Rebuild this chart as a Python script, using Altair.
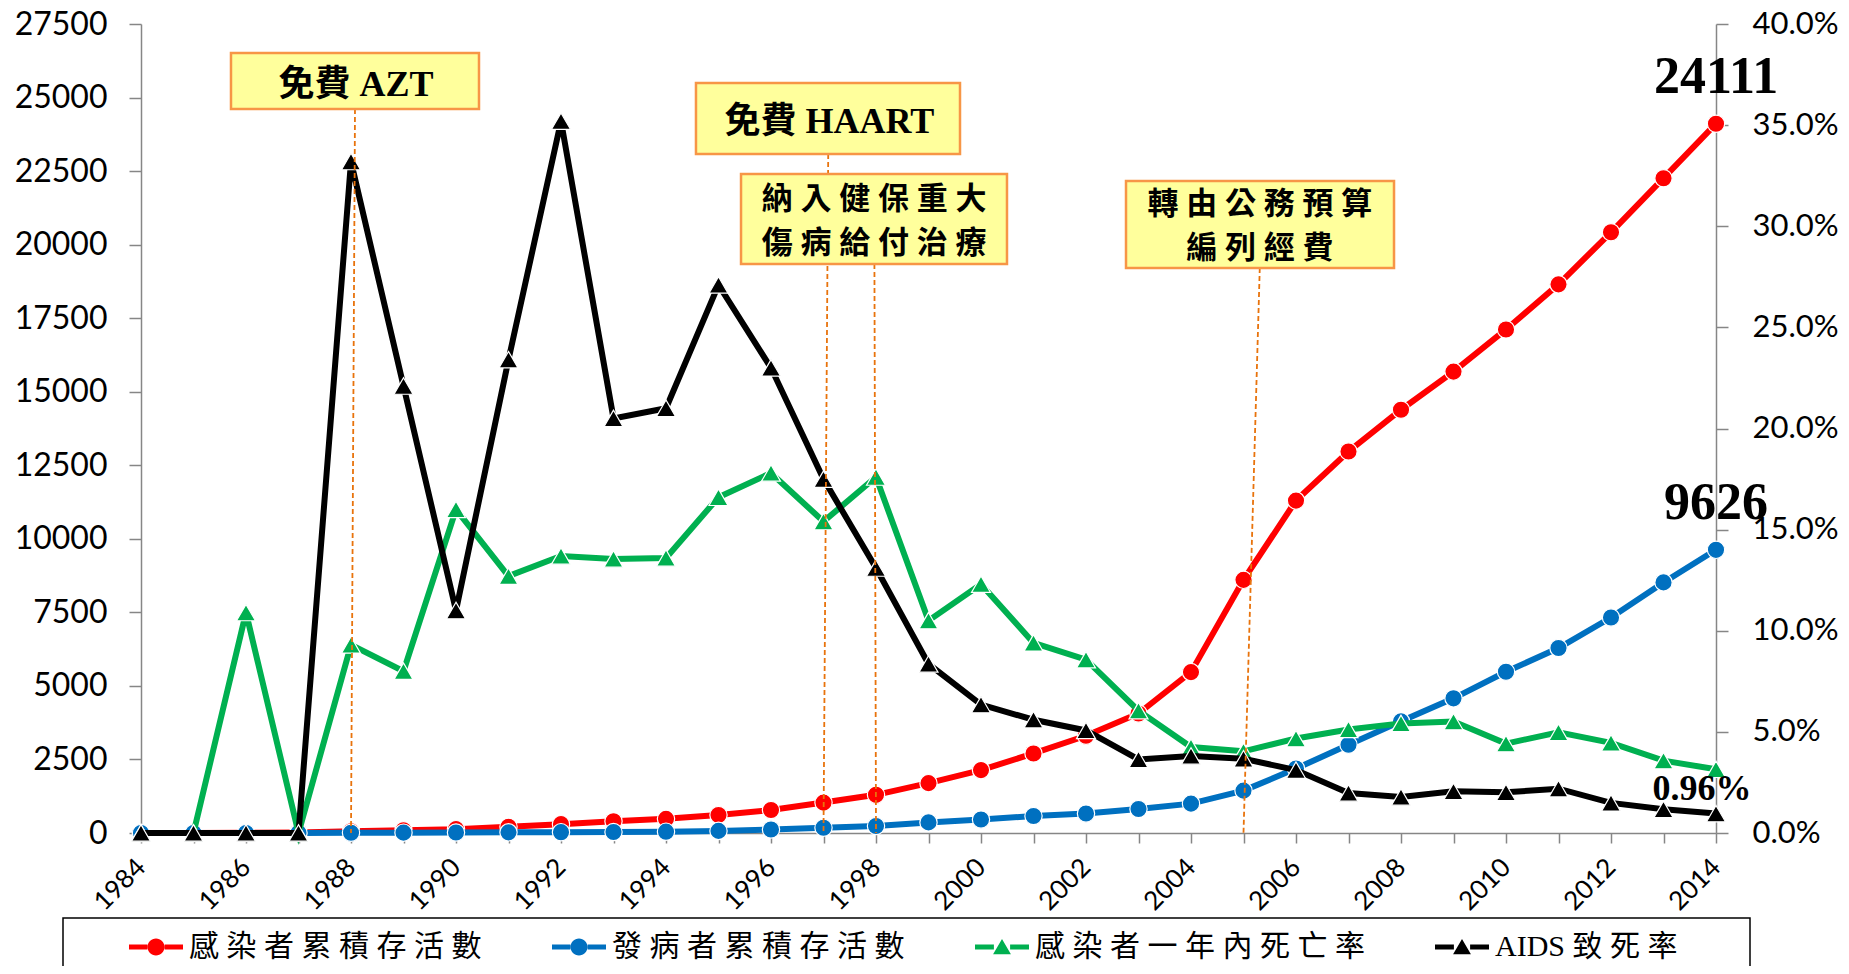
import altair as alt
import pandas as pd

# ---------------- data ----------------
years = list(range(1984, 2015))
series_names = ["感染者累積存活數", "發病者累積存活數", "感染者一年內死亡率", "AIDS致死率"]
series_colors = ["#FF0000", "#0070C0", "#00B050", "#000000"]

infected_alive = [0, 2, 5, 20, 60, 95, 130, 210, 300, 397, 481, 613, 781, 1034, 1298,
                  1695, 2139, 2704, 3305, 4062, 5469, 8606, 11300, 12970, 14388, 15685,
                  17117, 18650, 20420, 22258, 24111]
aids_alive = [0, 0, 1, 3, 8, 12, 16, 22, 28, 36, 45, 72, 120, 180, 240, 360, 457, 577,
              661, 817, 998, 1442, 2190, 3000, 3795, 4578, 5482, 6289, 7325, 8518, 9626]
infected_death_rate = [0.0, 0.0, 0.109, 0.0, 0.093, 0.080, 0.160, 0.127, 0.137, 0.1355,
                       0.136, 0.166, 0.178, 0.154, 0.176, 0.105, 0.123, 0.094, 0.0857,
                       0.0605, 0.0425, 0.0404, 0.0467, 0.0512, 0.0542, 0.0551, 0.0442,
                       0.0498, 0.0446, 0.0358, 0.0315]
aids_death_rate = [0.0, 0.0, 0.0, 0.0, 0.332, 0.221, 0.110, 0.234, 0.352, 0.205, 0.210,
                   0.271, 0.230, 0.175, 0.131, 0.0836, 0.0635, 0.056, 0.0507, 0.0364,
                   0.0381, 0.0367, 0.0311, 0.0198, 0.0178, 0.0206, 0.0201, 0.0219,
                   0.0149, 0.0117, 0.0096]

left_ticks = list(range(0, 27501, 2500))
right_ticks = [0.0, 0.05, 0.10, 0.15, 0.20, 0.25, 0.30, 0.35, 0.40]

event_labels = [["免費 AZT"], ["免費 HAART"], ["納入健保重大", "傷病給付治療"], ["轉由公務預算", "編列經費"]]
event_years = [1988, 1997, 1998, 2005]

# ---------------- layout (annotation placement, in axis units) ----------------
box_x0 = [1985.714, 1994.571, 1995.429, 2002.762]
box_x1 = [1990.438, 1999.600, 2000.495, 2007.867]
box_ytop = [26514, 25494, 22401, 22163]
box_ybot = [24610, 23081, 19342, 19206]
text_x = [1988.095, 1997.114, 1997.962, 2005.314]
text_y = [[25426], [24169], [21517, 20021], [21347, 19851]]
rule_top_x = [1988.076, 1997.09, 1997.97, 2005.31]

# ---------------- frames ----------------
rows = []
for name, vals in zip(series_names, [infected_alive, aids_alive, infected_death_rate, aids_death_rate]):
    for yr, v in zip(years, vals):
        rows.append({"year": yr, "series": name, "value": v})
df = pd.DataFrame(rows)

boxes_df = pd.DataFrame({"year": box_x0, "x1": box_x1, "y0": box_ytop, "y1": box_ybot})
rules_df = pd.DataFrame({"year": rule_top_x, "ya": box_ybot, "xb": event_years,
                         "yb": [0] * len(event_years)})
trows = []
for i, lines in enumerate(event_labels):
    for j, line in enumerate(lines):
        single = len(lines) == 1
        txt = line if single else " ".join(list(line))
        trows.append({"year": text_x[i], "y": text_y[i][j], "text": txt,
                      "fs": 36 if single else 31})
texts_df = pd.DataFrame(trows)

left_lab_df = pd.DataFrame({"year": [2014, 2014],
                            "value": [infected_alive[-1], aids_alive[-1]],
                            "text": [str(infected_alive[-1]), str(aids_alive[-1])]})
right_lab_df = pd.DataFrame({"year": [2014], "value": [aids_death_rate[-1]],
                             "text": [f"{aids_death_rate[-1] * 100:.2f}%"]})

# ---------------- scales / axes ----------------
AX_GREY = "#868686"
xscale = alt.Scale(domain=[1984, 2014], nice=False, zero=False)
yl_scale = alt.Scale(domain=[0, 27500], nice=False, zero=True)
yr_scale = alt.Scale(domain=[0, 0.4], nice=False, zero=True)

x_axis = alt.Axis(values=years, format="d", labelExpr="datum.value % 2 == 0 ? datum.label : ''",
                  labelAngle=-45, labelAlign="right", labelBaseline="middle",
                  labelFont="Lato", labelFontSize=26, labelColor="black",
                  labelPadding=20, labelOverlap=False, labelFlush=False,
                  tickSize=10, tickColor=AX_GREY, tickWidth=1.5,
                  domainColor=AX_GREY, domainWidth=1.5, grid=False, title=None)
yl_axis = alt.Axis(orient="left", values=left_ticks, format="d",
                   labelFont="Lato", labelFontSize=32, labelColor="black",
                   labelPadding=22, tickSize=12, tickColor=AX_GREY, tickWidth=1.5,
                   domainColor=AX_GREY, domainWidth=1.5, grid=False, title=None)
yr_axis = alt.Axis(orient="right", values=right_ticks, format=".1%",
                   labelFont="Lato", labelFontSize=31, labelColor="black",
                   labelPadding=24, tickSize=12, tickColor=AX_GREY, tickWidth=1.5,
                   domainColor=AX_GREY, domainWidth=1.5, grid=False, title=None)

X = alt.X("year:Q", scale=xscale, axis=x_axis, title=None)
YL = alt.Y("value:Q", scale=yl_scale, axis=yl_axis, title=None)
YR = alt.Y("value:Q", scale=yr_scale, axis=yr_axis, title=None)

base = alt.Chart(df)


def series_layers(name, color, shape, Y):
    d = base.transform_filter(alt.datum.series == name)
    line = d.mark_line(color=color, strokeWidth=6).encode(x=X, y=Y)
    pts = d.mark_point(shape=shape, filled=True, fill=color, stroke="white",
                       strokeWidth=1.2, opacity=1,
                       size=300 if shape == "circle" else 360).encode(x=X, y=Y)
    return [line, pts]


# legend symbols: line + marker
circ_path = ("M-1,-0.09H-0.32V0.09H-1Z M0.32,-0.09H1V0.09H0.32Z "
             "M0.315,0A0.315,0.315 0 1,1 -0.315,0A0.315,0.315 0 1,1 0.315,0Z")
tri_path = ("M-1,-0.09H-0.3V0.09H-1Z M0.3,-0.09H1V0.09H0.3Z "
            "M0,-0.3L0.33,0.27L-0.33,0.27Z")
legend_paths = [circ_path, circ_path, tri_path, tri_path]

leg = alt.Legend(title=None, orient="none", legendX=-12, legendY=896,
                 direction="horizontal", columns=4, symbolSize=2916, symbolOpacity=1,
                 symbolStrokeWidth=0, labelFont="Liberation Serif, Noto Sans CJK TC",
                 labelFontSize=30, labelColor="black", labelLimit=800, labelOffset=6,
                 columnPadding=70, padding=0, rowPadding=0,
                 labelExpr="replace(datum.label, regexp('([^A-Za-z])(?=.)|([A-Za-z])(?=[^A-Za-z])', 'g'), '$1$2 ')")

legend_layer = base.mark_point(filled=True, opacity=0).encode(
    x=X, y=YL,
    color=alt.Color("series:N", scale=alt.Scale(domain=series_names, range=series_colors), legend=leg),
    shape=alt.Shape("series:N", scale=alt.Scale(domain=series_names, range=legend_paths), legend=leg),
)

left = alt.layer(*series_layers(series_names[0], series_colors[0], "circle", YL),
                 *series_layers(series_names[1], series_colors[1], "circle", YL),
                 legend_layer)

right_label = alt.Chart(right_lab_df).mark_text(
    font="Liberation Serif", fontWeight="bold", fontSize=36, color="black",
    dx=-14, dy=-14, baseline="alphabetic", align="center").encode(x=X, y=YR, text="text:N")

right = alt.layer(*series_layers(series_names[2], series_colors[2], "triangle-up", YR),
                  *series_layers(series_names[3], series_colors[3], "triangle-up", YR),
                  right_label)

# ---------------- annotations ----------------
YA = lambda f: alt.Y(f, scale=yl_scale, axis=None, title=None)

rules = alt.Chart(rules_df).mark_rule(color="#E8730C", strokeWidth=1.8, strokeDash=[5, 3]).encode(
    x=X, y=YA("ya:Q"), x2="xb:Q", y2="yb:Q")
rects = alt.Chart(boxes_df).mark_rect(fill="#FFFF9C", stroke="#F79646", strokeWidth=2.5).encode(
    x=X, x2="x1:Q", y=YA("y0:Q"), y2="y1:Q")
texts = alt.Chart(texts_df).mark_text(
    font="Liberation Serif, Noto Sans CJK TC", fontWeight="bold",
    color="black", align="center", baseline="middle").encode(
    x=X, y=YA("y:Q"), text="text:N", size=alt.Size("fs:Q", scale=None, legend=None))
val_labels = alt.Chart(left_lab_df).mark_text(
    font="Liberation Serif", fontWeight="bold", fontSize=52, color="black",
    dy=-31, baseline="alphabetic", align="center").encode(
    x=X, y=YA("value:Q"), text="text:N")
legend_box = alt.Chart(pd.DataFrame({"k": [0]})).mark_rect(
    fill=None, stroke="black", strokeWidth=1.5).encode(
    x=alt.value(-78), x2=alt.value(1609), y=alt.value(894), y2=alt.value(1000))

annot = alt.layer(rules, rects, texts, val_labels, legend_box)

chart = alt.layer(left, right, annot).resolve_scale(y="independent").properties(
    width=1575, height=809,
    padding={"left": 133, "top": 16, "right": 125, "bottom": 133},
    autosize=alt.AutoSizeParams(type="none"),
    background="white",
).configure_view(stroke=None)

chart.save("out.html", embed_options={"renderer": "svg", "actions": False})
